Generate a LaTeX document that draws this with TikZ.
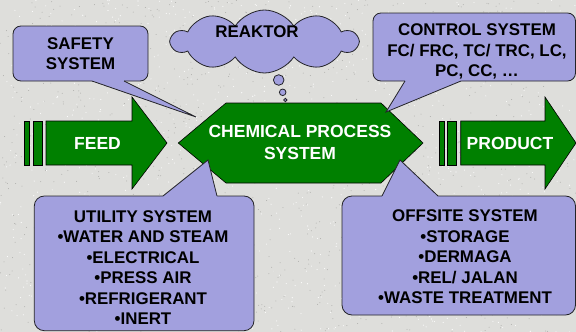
\documentclass[tikz,border=0pt]{standalone}
\usepackage{fontspec}
\setmainfont{Liberation Sans}
\usetikzlibrary{shapes.symbols}
\definecolor{bggray}{RGB}{222,222,219}
\definecolor{speckdark}{RGB}{175,175,172}
\definecolor{lav}{RGB}{162,160,222}
\definecolor{pgreen}{RGB}{0,128,0}
\definecolor{edgecol}{RGB}{35,35,40}
\begin{document}
\begin{tikzpicture}[x=1pt,y=-1pt,
  calltext/.style={font=\fontsize{16.9}{20.5}\selectfont\bfseries, align=center, inner sep=0pt, text=black},
  whitetext/.style={font=\fontsize{17.5}{21.5}\selectfont\bfseries, align=center, inner sep=0pt, text=white},
  greenshape/.style={fill=pgreen, draw=black, line width=0.6pt},
  bubble/.style={fill=lav, draw=edgecol, line width=0.8pt},
  tailedge/.style={draw=edgecol, line width=0.8pt},
]
% background
\fill[bggray] (0,0) rectangle (576,332);
\useasboundingbox (0,0) rectangle (576,332);
\pgfmathsetseed{7}
\foreach \i in {1,...,1100}{
  \fill[speckdark] ({576*rnd},{332*rnd}) circle (0.5);
}
\foreach \i in {1,...,1100}{
  \fill[white] ({576*rnd},{332*rnd}) circle (0.55);
}

% cloud and thought bubbles
\node[cloud, cloud puffs=10, cloud puff arc=115, fill=lav, draw=edgecol, line width=0.8pt,
      minimum width=186pt, minimum height=63pt, inner sep=0pt] (reaktorcloud) at (264.5,41.5) {};
\node[calltext] (reaktor) at (257,32) {REAKTOR};
\draw[bubble] (278.7,80) circle (5.3);
\draw[bubble] (282.7,92.3) circle (3.3);
\draw[bubble] (285.3,100) circle (1.7);

% FEED arrow
\draw[greenshape] (24,121) rectangle (29.3,165);
\draw[greenshape] (33.3,121) rectangle (42,165);
\draw[greenshape] (46,121) -- (132,121) -- (132,97) -- (167,143) -- (132,189) -- (132,165) -- (46,165) -- cycle;
\node[whitetext] (feed) at (97.5,143.5) {FEED};

% PRODUCT arrow
\draw[greenshape] (439.3,121) rectangle (444,165);
\draw[greenshape] (447.7,121) rectangle (456,165);
\draw[greenshape] (460.7,121) -- (545,121) -- (545,97) -- (576,143) -- (545,189) -- (545,165) -- (460.7,165) -- cycle;
\node[whitetext] (product) at (510,143.3) {PRODUCT};

% central hexagon
\draw[greenshape] (178.3,143) -- (226,103) -- (381,103) -- (423,143) -- (381,183) -- (226,183) -- cycle;
\node[whitetext] (chem) at (300,142.5) {CHEMICAL PROCESS\\SYSTEM};

% SAFETY callout
\draw[bubble, rounded corners=8pt] (13,26) rectangle (148,81);
\fill[lav] (92,78.5) -- (92,81) -- (196,117) -- (124,81) -- (124,78.5) -- cycle;
\draw[tailedge] (92,81) -- (196,117) -- (124,81);
\node[calltext] (safety) at (80.5,53.5) {SAFETY\\SYSTEM};

% CONTROL callout
\draw[bubble, rounded corners=8pt] (373,13) rectangle (575.5,81);
\fill[lav] (405,78.5) -- (405,81) -- (386,112) -- (461,81) -- (461,78.5) -- cycle;
\draw[tailedge] (405,81) -- (386,112) -- (461,81);
\node[calltext] (control) at (477,51.5) {CONTROL SYSTEM\\FC/ FRC, TC/ TRC, LC,\\PC, CC, \dots};

% UTILITY callout
\draw[bubble, rounded corners=10pt] (34.3,196) rectangle (254,330.7);
\fill[lav] (163,198.5) -- (163,196) -- (208,160) -- (217,196) -- (217,198.5) -- cycle;
\draw[tailedge] (163,196) -- (208,160) -- (217,196);
\node[calltext] (utility) at (143,267.5) {UTILITY SYSTEM\\\textbullet WATER AND STEAM\\\textbullet ELECTRICAL\\\textbullet PRESS AIR\\\textbullet REFRIGERANT\\\textbullet INERT};

% OFFSITE callout
\draw[bubble, rounded corners=10pt] (342,196) rectangle (575.5,315);
\fill[lav] (382,198.5) -- (382,196) -- (400,160) -- (438,196) -- (438,198.5) -- cycle;
\draw[tailedge] (382,196) -- (400,160) -- (438,196);
\node[calltext] (offsite) at (465,257) {OFFSITE SYSTEM\\\textbullet STORAGE\\\textbullet DERMAGA\\\textbullet REL/ JALAN\\\textbullet WASTE TREATMENT};
\end{tikzpicture}
\end{document}
